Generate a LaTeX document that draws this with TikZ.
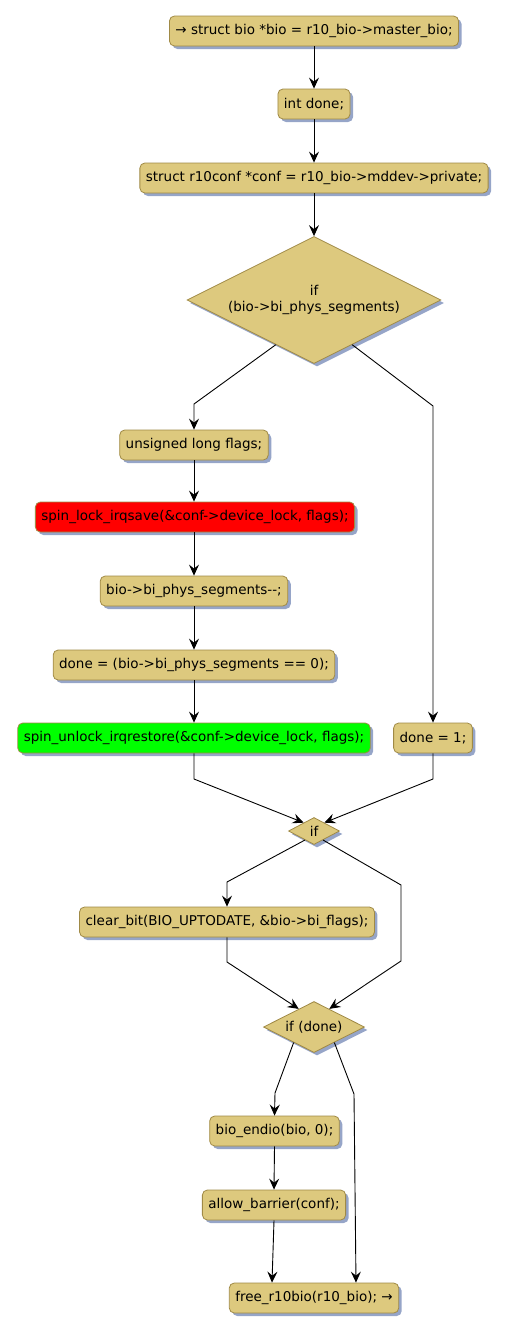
\documentclass[tikz,border=0pt]{standalone}
\usepackage{fontspec}
\setmainfont{DejaVu Sans}[Ligatures=TeXOff]
\usetikzlibrary{shapes.geometric,arrows.meta,shadows,calc}
\definecolor{actfill}{RGB}{221,201,126}
\definecolor{actline}{RGB}{160,138,70}
\definecolor{shadowc}{RGB}{150,165,200}
\begin{document}
\begin{tikzpicture}[x=1pt,y=-1pt,
  act/.style={draw=actline, fill=actfill, rounded corners=5pt, line width=0.8pt,
    font=\fontsize{13.5}{16}\selectfont, inner xsep=6pt, minimum height=30pt,
    drop shadow={shadow xshift=3pt, shadow yshift=-3pt, fill=shadowc, opacity=1}},
  dec/.style={diamond, aspect=2, inner sep=0pt, draw=actline, fill=actfill, line width=0.8pt,
    font=\fontsize{13.5}{16}\selectfont, align=center,
    drop shadow={shadow xshift=3pt, shadow yshift=-3pt, fill=shadowc, opacity=1}},
  flow/.style={-{Stealth[length=11pt,width=10pt,inset=4pt]}, line width=0.9pt}]
\useasboundingbox (0,0) rectangle (507,1333);

\node[act] (n1) at (314,31) {→ struct bio *bio = r10\_bio->master\_bio;};
\node[act] (n2) at (314,104) {int done;};
\node[act] (n3) at (314,178) {struct r10conf *conf = r10\_bio->mddev->private;};
\node[dec, minimum width=254pt, minimum height=127pt] (d1) at (314,300) {if\\(bio->bi\_phys\_segments)};
\node[act] (n4) at (194,445) {unsigned long flags;};
\node[act, fill=red] (n5) at (195,517) {spin\_lock\_irqsave(\&conf->device\_lock, flags);};
\node[act] (n6) at (194,591) {bio->bi\_phys\_segments--;};
\node[act] (n7) at (194,665) {done = (bio->bi\_phys\_segments == 0);};
\node[act, fill=green] (n8) at (194,738) {spin\_unlock\_irqrestore(\&conf->device\_lock, flags);};
\node[act] (n9) at (433,738) {done = 1;};
\node[dec, minimum width=51pt, minimum height=27pt] (d2) at (314,831) {if};
\node[act] (n10) at (227,922) {clear\_bit(BIO\_UPTODATE, \&bio->bi\_flags);};
\node[dec, minimum width=101pt, minimum height=51pt] (d3) at (314,1027) {if (done)};
\node[act] (n11) at (274.5,1131) {bio\_endio(bio, 0);};
\node[act] (n12) at (274,1205) {allow\_barrier(conf);};
\node[act] (n13) at (314,1298) {free\_r10bio(r10\_bio); →};

\coordinate (b1) at (194,404);
\coordinate (b2) at (433,406);
\coordinate (m1) at (194,779);
\coordinate (m2) at (433,779);
\coordinate (c1) at (227,882);
\coordinate (c2) at (401,885);
\coordinate (c3) at (401,961);
\coordinate (c4) at (227,962);
\coordinate (e1) at (275,1093);
\coordinate (e2) at (354,1094);

\draw[flow] (n1.south) -- (n2.north);
\draw[flow] (n2.south) -- (n3.north);
\draw[flow] (n3.south) -- (d1.north);
\draw[flow] ($(d1.south)!0.3!(d1.west)$) -- (b1) -- (n4.north);
\draw[flow] ($(d1.south)!0.3!(d1.east)$) -- (b2) -- (n9.north);
\draw[flow] (n4.south) -- (n4.south |- n5.north);
\draw[flow] (n4.south |- n5.south) -- (n6.north);
\draw[flow] (n6.south) -- (n7.north);
\draw[flow] (n7.south) -- (n8.north);
\draw[flow] (n8.south) -- (m1) -- ($(d2.north)!0.4!(d2.west)$);
\draw[flow] (n9.south) -- (m2) -- ($(d2.north)!0.4!(d2.east)$);
\draw[flow] ($(d2.south)!0.35!(d2.west)$) -- (c1) -- (n10.north);
\draw[flow] ($(d2.south)!0.35!(d2.east)$) -- (c2) -- (c3) -- ($(d3.north)!0.3!(d3.east)$);
\draw[flow] (n10.south) -- (c4) -- ($(d3.north)!0.3!(d3.west)$);
\draw[flow] ($(d3.south)!0.4!(d3.west)$) -- (e1) -- (n11.north);
\draw[flow] ($(d3.south)!0.4!(d3.east)$) -- (e2) -- ($(n13.north)+(42,0)$);
\draw[flow] (n11.south) -- (n12.north);
\draw[flow] (n12.south) -- ($(n13.north)+(-42,0)$);
\end{tikzpicture}
\end{document}
